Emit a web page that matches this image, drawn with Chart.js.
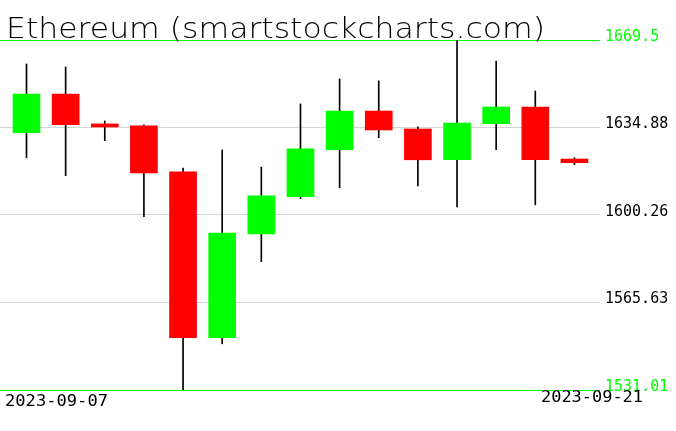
<!DOCTYPE html>
<html>
<head>
<meta charset="utf-8">
<script src="https://cdn.jsdelivr.net/npm/chart.js@4"></script>
<style>
html, body { margin: 0; padding: 0; background: #fff; }
</style>
</head>
<body>
<canvas id="myChart" width="676" height="431"></canvas>
<script>
var chartTitle = 'Ethereum (smartstockcharts.com)';
var dates = ['2023-09-07', '2023-09-08', '2023-09-09', '2023-09-10', '2023-09-11',
             '2023-09-12', '2023-09-13', '2023-09-14', '2023-09-15', '2023-09-16',
             '2023-09-17', '2023-09-18', '2023-09-19', '2023-09-20', '2023-09-21'];
var opens  = [1632.8, 1648.1, 1636.3, 1635.5, 1617.3, 1551.7, 1592.8, 1607.5, 1626.1, 1641.4, 1634.3, 1622.1, 1636.4, 1643.0, 1622.4];
var highs  = [1660.0, 1658.8, 1637.45, 1635.9, 1618.85, 1626.0, 1619.2, 1644.2, 1654.1, 1653.3, 1635.1, 1669.5, 1661.2, 1649.3, 1622.9];
var lows   = [1622.9, 1615.8, 1629.65, 1599.6, 1531.01, 1549.3, 1581.8, 1606.7, 1611.05, 1630.85, 1611.8, 1603.5, 1626.1, 1604.3, 1620.15];
var closes = [1648.1, 1636.0, 1635.1, 1616.9, 1551.7, 1593.1, 1607.8, 1626.4, 1641.4, 1633.9, 1622.1, 1636.65, 1643.0, 1622.1, 1620.95];
var tickValues = [1531.01, 1565.63, 1600.26, 1634.88, 1669.5];

var upColor = '#00ff00';
var downColor = '#ff0000';

var bodies = dates.map(function (d, i) {
    return { x: i, y: [Math.min(opens[i], closes[i]), Math.max(opens[i], closes[i])] };
});
var wicks = dates.map(function (d, i) {
    return { x: i, y: [lows[i], highs[i]] };
});
var bodyColors = dates.map(function (d, i) {
    return closes[i] >= opens[i] ? upColor : downColor;
});

// draws the title and the first / last date
var textPlugin = {
    id: 'texts',
    afterDraw: function (chart) {
        var c = chart.ctx;
        c.save();
        c.fillStyle = '#000';
        c.textBaseline = 'alphabetic';
        c.textAlign = 'left';
        fitText(c, chartTitle, '300 29px "DejaVu Sans"', 6, 38, 539);
        fitText(c, dates[0], '15px "DejaVu Sans Mono"', 5, 406, 103);
        fitText(c, dates[dates.length - 1], '15px "DejaVu Sans Mono"', 541, 401.5, 102);
        c.restore();
    }
};

function fitText(c, txt, font, x, y, w) {
    c.save();
    c.font = font;
    var sx = w / c.measureText(txt).width;
    c.translate(x, y);
    c.scale(sx, 1);
    c.fillText(txt, 0, 0);
    c.restore();
}

var ctx = document.getElementById('myChart').getContext('2d');
var myChart = new Chart(ctx, {
    type: 'bar',
    data: {
        datasets: [{
            label: 'body',
            data: bodies,
            backgroundColor: bodyColors,
            barThickness: 27,
            grouped: false,
            order: 0
        }, {
            label: 'wick',
            data: wicks,
            backgroundColor: '#000',
            barThickness: 1,
            grouped: false,
            order: 1
        }]
    },
    options: {
        responsive: false,
        animation: false,
        layout: { padding: { top: 40, bottom: 41, left: 0, right: 0 } },
        plugins: {
            legend: { display: false },
            tooltip: { enabled: false },
            title: { display: false }
        },
        scales: {
            x: {
                type: 'linear',
                offset: false,
                min: -0.677,
                max: 14.653,
                display: false
            },
            y: {
                position: 'right',
                min: tickValues[0],
                max: tickValues[tickValues.length - 1],
                afterBuildTicks: function (scale) {
                    scale.ticks = tickValues.map(function (v) { return { value: v }; });
                },
                afterFit: function (scale) {
                    scale.width = 76;
                },
                border: { display: false },
                grid: {
                    drawTicks: false,
                    lineWidth: 1,
                    color: function (c) {
                        var v = c.tick && c.tick.value;
                        return (v === tickValues[0] || v === tickValues[tickValues.length - 1]) ? upColor : '#d3d3d3';
                    }
                },
                ticks: {
                    padding: 5,
                    labelOffset: -3,
                    font: { family: '"DejaVu Sans Mono"', size: 15 },
                    color: function (c) {
                        return (c.index === 0 || c.index === tickValues.length - 1) ? upColor : '#000';
                    },
                    callback: function (v) { return String(v); }
                }
            }
        }
    },
    plugins: [textPlugin]
});
</script>
</body>
</html>
